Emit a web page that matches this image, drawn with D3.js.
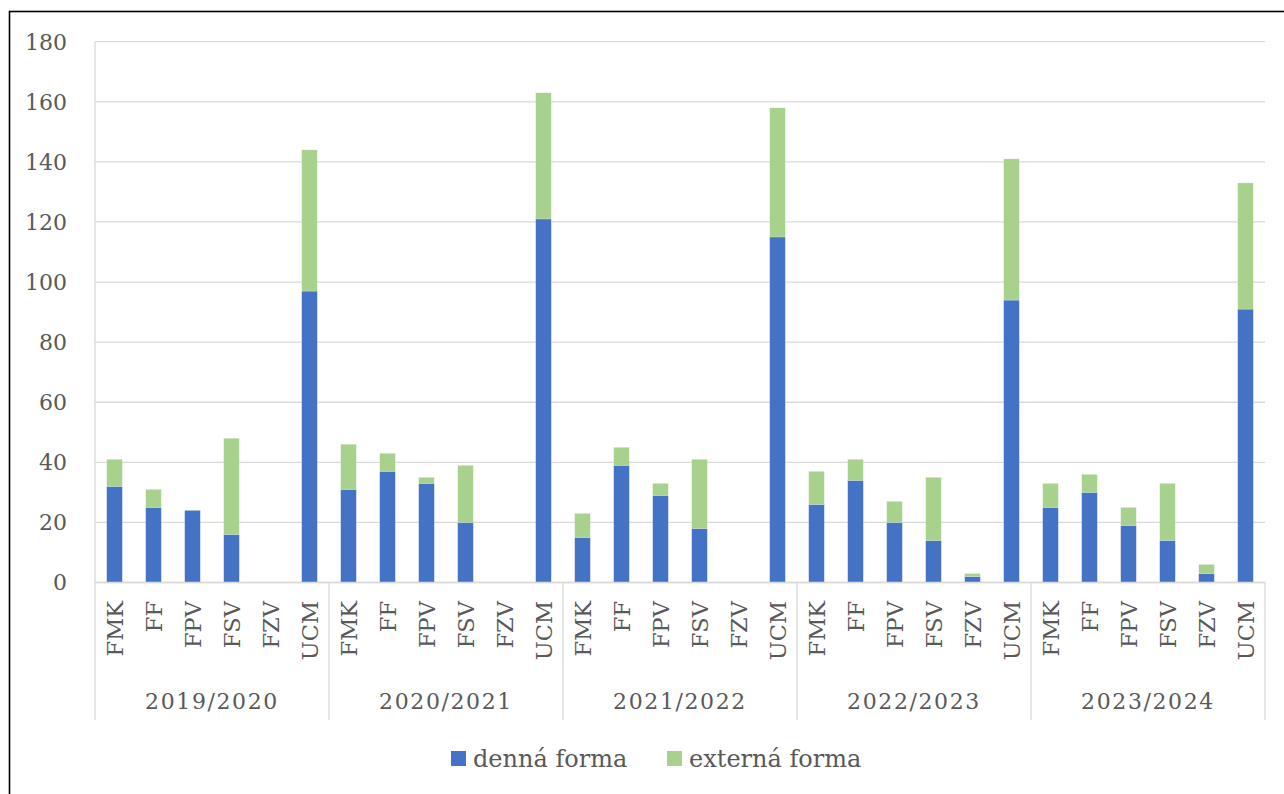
<!DOCTYPE html>
<meta charset="utf-8">
<style>
body { margin: 0; background: #fff; }
text { font-family: "DejaVu Serif", serif; fill: #595959; }
.grid line { stroke: #d9d9d9; stroke-width: 1.3; }
</style>
<body>
<svg width="1284" height="794"></svg>
<script src="https://cdnjs.cloudflare.com/ajax/libs/d3/7.8.5/d3.min.js"></script>
<script>
var years = ["2019/2020", "2020/2021", "2021/2022", "2022/2023", "2023/2024"];
var faculties = ["FMK", "FF", "FPV", "FSV", "FZV", "UCM"];
// denná forma, one row per year in faculty order
var denna = [
  [32, 25, 24, 16, 0, 97],
  [31, 37, 33, 20, 0, 121],
  [15, 39, 29, 18, 0, 115],
  [26, 34, 20, 14, 2, 94],
  [25, 30, 19, 14, 3, 91]
];
// externá forma
var externa = [
  [9, 6, 0, 32, 0, 47],
  [15, 6, 2, 19, 0, 42],
  [8, 6, 4, 23, 0, 43],
  [11, 7, 7, 21, 1, 47],
  [8, 6, 6, 19, 3, 42]
];
var yTicks = [0, 20, 40, 60, 80, 100, 120, 140, 160, 180];
var seriesNames = ["denná forma", "externá forma"];
var colors = ["#4472C4", "#A9D18E"];

var svg = d3.select("svg");
var plotL = 95, plotR = 1265, plotT = 41.7, plotB = 582.5;

// chart border
svg.append("rect")
  .attr("x", 9.5).attr("y", 11.5)
  .attr("width", 1400).attr("height", 900)
  .attr("fill", "none").attr("stroke", "#000").attr("stroke-width", 1.6);

var rows = [];
years.forEach(function(yr, i) {
  faculties.forEach(function(f, j) {
    rows.push({key: yr + "|" + f, year: yr, fac: f, denna: denna[i][j], externa: externa[i][j]});
  });
});

var x = d3.scaleBand().domain(rows.map(function(d) { return d.key; }))
  .range([plotL, plotR]).paddingInner(0.6).paddingOuter(0.3);
var yrScale = d3.scaleBand().domain(years).range([plotL, plotR]);
var y = d3.scaleLinear().domain([0, 180]).range([plotB, plotT]);

// gridlines
var grid = svg.append("g").attr("class", "grid");
grid.selectAll("line").data(yTicks).enter().append("line")
  .attr("x1", plotL).attr("x2", plotR)
  .attr("y1", function(d) { return y(d); })
  .attr("y2", function(d) { return y(d); });
grid.append("line").attr("x1", plotL).attr("x2", plotL).attr("y1", plotT).attr("y2", plotB);

// y labels
svg.append("g").selectAll("text").data(yTicks).enter().append("text")
  .attr("x", 67).attr("y", function(d) { return y(d); })
  .attr("dy", "0.36em").attr("text-anchor", "end")
  .style("font-size", "22px")
  .text(function(d) { return d; });

// stacked bars
var stack = d3.stack().keys(["denna", "externa"]);
var layers = stack(rows);
svg.append("g").selectAll("g").data(layers).enter().append("g")
  .attr("fill", function(d, i) { return colors[i]; })
  .selectAll("rect").data(function(d) { return d.filter(function(s) { return s[1] > s[0]; }); })
  .enter().append("rect")
  .attr("x", function(d) { return x(d.data.key); })
  .attr("width", x.bandwidth())
  .attr("y", function(d) { return y(d[1]); })
  .attr("height", function(d) { return y(d[0]) - y(d[1]); })
  .attr("stroke", "#fff").attr("stroke-opacity", 0.35).attr("stroke-width", 0.6);

// category axis
var axisG = svg.append("g").attr("class", "grid");
axisG.append("line").attr("x1", plotL).attr("x2", plotR).attr("y1", plotB).attr("y2", plotB);
var seps = years.map(function(d) { return yrScale(d); }).concat([plotR]);
axisG.selectAll(".sep").data(seps).enter().append("line")
  .attr("x1", function(d) { return d; }).attr("x2", function(d) { return d; })
  .attr("y1", plotB).attr("y2", 720);

svg.append("g").selectAll("text").data(rows).enter().append("text")
  .attr("transform", function(d) {
    return "translate(" + (x(d.key) + x.bandwidth() / 2) + ",601) rotate(-90)";
  })
  .attr("dy", "0.36em").attr("text-anchor", "end")
  .style("font-size", "22.5px")
  .text(function(d) { return d.fac; });

svg.append("g").selectAll("text").data(years).enter().append("text")
  .attr("x", function(d) { return yrScale(d) + yrScale.bandwidth() / 2; })
  .attr("y", 709).attr("text-anchor", "middle")
  .style("font-size", "22px").style("letter-spacing", "1.6px")
  .text(function(d) { return d; });

// legend
var legendX = [451, 667];
var lg = svg.append("g").selectAll("g").data(seriesNames).enter().append("g")
  .attr("transform", function(d, i) { return "translate(" + legendX[i] + ",0)"; });
lg.append("rect").attr("x", 0).attr("y", 751).attr("width", 15).attr("height", 15)
  .attr("fill", function(d, i) { return colors[i]; });
lg.append("text").attr("x", 22).attr("y", 767)
  .style("font-size", "24px")
  .text(function(d) { return d; });
</script>
</body>
